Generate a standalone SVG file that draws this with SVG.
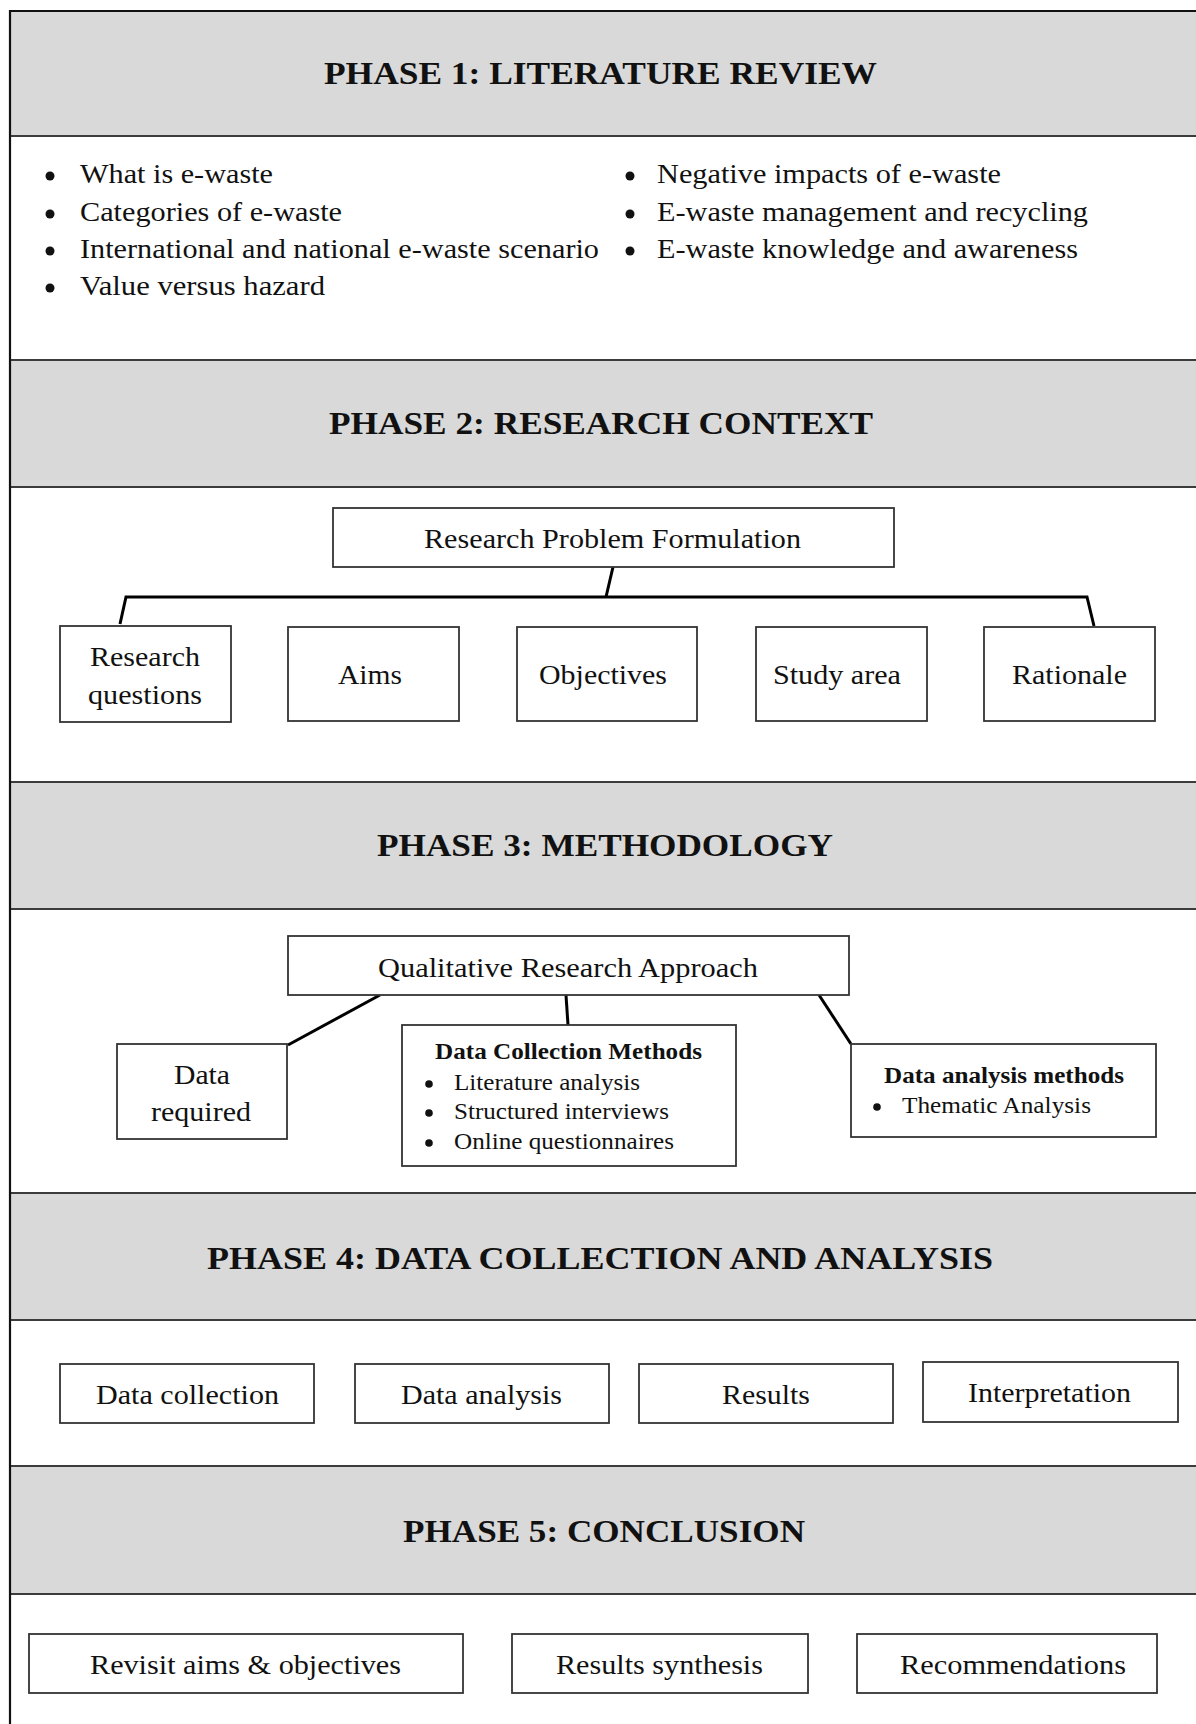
<svg xmlns="http://www.w3.org/2000/svg" width="1196" height="1724" viewBox="0 0 1196 1724">
<style>
.hdr{fill:#d9d9d9;stroke:none}
.sep{stroke:#3c3c3c;stroke-width:2;fill:none}
.frame{stroke:#111;stroke-width:2.2;fill:none}
.box{fill:#fff;stroke:#333;stroke-width:1.8}
.title{font-family:"Liberation Serif","Times New Roman",serif;font-weight:bold;font-size:31px;fill:#111}
.t{font-family:"Liberation Serif","Times New Roman",serif;font-size:27px;fill:#111}
.s{font-family:"Liberation Serif","Times New Roman",serif;font-size:23px;fill:#111}
.sb{font-family:"Liberation Serif","Times New Roman",serif;font-size:23px;font-weight:bold;fill:#111}
.dot{fill:#111}
.conn{stroke:#000;stroke-width:3;fill:none;stroke-linejoin:miter}
</style>
<rect x="0" y="0" width="1196" height="1724" fill="#fff"/>

<!-- Phase headers -->
<g id="phase1-header">
<rect class="hdr" x="10" y="11" width="1186" height="125"/>
<text class="title" x="324" y="84" textLength="553" lengthAdjust="spacingAndGlyphs">PHASE 1: LITERATURE REVIEW</text>
</g>
<g id="phase1-body">
<circle class="dot" cx="50" cy="176" r="4.5"/>
<text class="t" x="80" y="183" textLength="193" lengthAdjust="spacingAndGlyphs">What is e-waste</text>
<circle class="dot" cx="50" cy="214" r="4.5"/>
<text class="t" x="80" y="221" textLength="262" lengthAdjust="spacingAndGlyphs">Categories of e-waste</text>
<circle class="dot" cx="50" cy="251" r="4.5"/>
<text class="t" x="80" y="258" textLength="519" lengthAdjust="spacingAndGlyphs">International and national e-waste scenario</text>
<circle class="dot" cx="50" cy="288" r="4.5"/>
<text class="t" x="80" y="295" textLength="245" lengthAdjust="spacingAndGlyphs">Value versus hazard</text>
<circle class="dot" cx="630" cy="176" r="4.5"/>
<text class="t" x="657" y="183" textLength="344" lengthAdjust="spacingAndGlyphs">Negative impacts of e-waste</text>
<circle class="dot" cx="630" cy="214" r="4.5"/>
<text class="t" x="657" y="221" textLength="431" lengthAdjust="spacingAndGlyphs">E-waste management and recycling</text>
<circle class="dot" cx="630" cy="251" r="4.5"/>
<text class="t" x="657" y="258" textLength="421" lengthAdjust="spacingAndGlyphs">E-waste knowledge and awareness</text>
</g>

<g id="phase2-header">
<rect class="hdr" x="10" y="360" width="1186" height="127"/>
<text class="title" x="329" y="434" textLength="544" lengthAdjust="spacingAndGlyphs">PHASE 2: RESEARCH CONTEXT</text>
</g>

<g id="phase3-header">
<rect class="hdr" x="10" y="782" width="1186" height="127"/>
<text class="title" x="377" y="856" textLength="456" lengthAdjust="spacingAndGlyphs">PHASE 3: METHODOLOGY</text>
</g>

<g id="phase4-header">
<rect class="hdr" x="10" y="1193" width="1186" height="127"/>
<text class="title" x="207" y="1269" textLength="786" lengthAdjust="spacingAndGlyphs">PHASE 4: DATA COLLECTION AND ANALYSIS</text>
</g>

<g id="phase5-header">
<rect class="hdr" x="10" y="1466" width="1186" height="128"/>
<text class="title" x="403" y="1542" textLength="402" lengthAdjust="spacingAndGlyphs">PHASE 5: CONCLUSION</text>
</g>

<!-- separators and frame -->
<g id="frame">
<line class="sep" x1="10" y1="136" x2="1196" y2="136"/>
<line class="sep" x1="10" y1="360" x2="1196" y2="360"/>
<line class="sep" x1="10" y1="487" x2="1196" y2="487"/>
<line class="sep" x1="10" y1="782" x2="1196" y2="782"/>
<line class="sep" x1="10" y1="909" x2="1196" y2="909"/>
<line class="sep" x1="10" y1="1193" x2="1196" y2="1193"/>
<line class="sep" x1="10" y1="1320" x2="1196" y2="1320"/>
<line class="sep" x1="10" y1="1466" x2="1196" y2="1466"/>
<line class="sep" x1="10" y1="1594" x2="1196" y2="1594"/>
<line class="frame" x1="10" y1="11" x2="1196" y2="11"/>
<line class="frame" x1="10" y1="10" x2="10" y2="1724"/>
</g>

<!-- connectors -->
<g id="connectors">
<path class="conn" d="M613,567 L606,597"/>
<path class="conn" d="M120,624 L126,597 L1087,597 L1094,626"/>
<path class="conn" d="M380,995 L288,1045"/>
<path class="conn" d="M566,995 L568,1025"/>
<path class="conn" d="M819,995 L851,1044"/>
</g>

<!-- Phase 2 nodes -->
<g id="research-problem">
<rect class="box" x="333" y="508" width="561" height="59"/>
<text class="t" x="424" y="548" textLength="377" lengthAdjust="spacingAndGlyphs">Research Problem Formulation</text>
</g>
<g id="research-questions">
<rect class="box" x="60" y="626" width="171" height="96"/>
<text class="t" x="90" y="666" textLength="110" lengthAdjust="spacingAndGlyphs">Research</text>
<text class="t" x="88" y="704" textLength="114" lengthAdjust="spacingAndGlyphs">questions</text>
</g>
<g id="aims">
<rect class="box" x="288" y="627" width="171" height="94"/>
<text class="t" x="338" y="684" textLength="64" lengthAdjust="spacingAndGlyphs">Aims</text>
</g>
<g id="objectives">
<rect class="box" x="517" y="627" width="180" height="94"/>
<text class="t" x="539" y="684" textLength="128" lengthAdjust="spacingAndGlyphs">Objectives</text>
</g>
<g id="study-area">
<rect class="box" x="756" y="627" width="171" height="94"/>
<text class="t" x="773" y="684" textLength="128" lengthAdjust="spacingAndGlyphs">Study area</text>
</g>
<g id="rationale">
<rect class="box" x="984" y="627" width="171" height="94"/>
<text class="t" x="1012" y="684" textLength="115" lengthAdjust="spacingAndGlyphs">Rationale</text>
</g>

<!-- Phase 3 nodes -->
<g id="qualitative-approach">
<rect class="box" x="288" y="936" width="561" height="59"/>
<text class="t" x="378" y="977" textLength="380" lengthAdjust="spacingAndGlyphs">Qualitative Research Approach</text>
</g>
<g id="data-required">
<rect class="box" x="117" y="1044" width="170" height="95"/>
<text class="t" x="174" y="1084" textLength="56" lengthAdjust="spacingAndGlyphs">Data</text>
<text class="t" x="151" y="1121" textLength="100" lengthAdjust="spacingAndGlyphs">required</text>
</g>
<g id="data-collection-methods">
<rect class="box" x="402" y="1025" width="334" height="141"/>
<text class="sb" x="435" y="1059" textLength="267" lengthAdjust="spacingAndGlyphs">Data Collection Methods</text>
<circle class="dot" cx="429" cy="1084" r="3.8"/>
<text class="s" x="454" y="1090" textLength="186" lengthAdjust="spacingAndGlyphs">Literature analysis</text>
<circle class="dot" cx="429" cy="1113" r="3.8"/>
<text class="s" x="454" y="1119" textLength="215" lengthAdjust="spacingAndGlyphs">Structured interviews</text>
<circle class="dot" cx="429" cy="1143" r="3.8"/>
<text class="s" x="454" y="1149" textLength="220" lengthAdjust="spacingAndGlyphs">Online questionnaires</text>
</g>
<g id="data-analysis-methods">
<rect class="box" x="851" y="1044" width="305" height="93"/>
<text class="sb" x="884" y="1083" textLength="240" lengthAdjust="spacingAndGlyphs">Data analysis methods</text>
<circle class="dot" cx="877" cy="1107" r="3.8"/>
<text class="s" x="902" y="1113" textLength="189" lengthAdjust="spacingAndGlyphs">Thematic Analysis</text>
</g>

<!-- Phase 4 nodes -->
<g id="data-collection">
<rect class="box" x="60" y="1364" width="254" height="59"/>
<text class="t" x="96" y="1404" textLength="183" lengthAdjust="spacingAndGlyphs">Data collection</text>
</g>
<g id="data-analysis">
<rect class="box" x="355" y="1364" width="254" height="59"/>
<text class="t" x="401" y="1404" textLength="161" lengthAdjust="spacingAndGlyphs">Data analysis</text>
</g>
<g id="results">
<rect class="box" x="639" y="1364" width="254" height="59"/>
<text class="t" x="722" y="1404" textLength="88" lengthAdjust="spacingAndGlyphs">Results</text>
</g>
<g id="interpretation">
<rect class="box" x="923" y="1362" width="255" height="60"/>
<text class="t" x="968" y="1402" textLength="163" lengthAdjust="spacingAndGlyphs">Interpretation</text>
</g>

<!-- Phase 5 nodes -->
<g id="revisit-aims">
<rect class="box" x="29" y="1634" width="434" height="59"/>
<text class="t" x="90" y="1674" textLength="311" lengthAdjust="spacingAndGlyphs">Revisit aims &amp; objectives</text>
</g>
<g id="results-synthesis">
<rect class="box" x="512" y="1634" width="296" height="59"/>
<text class="t" x="556" y="1674" textLength="207" lengthAdjust="spacingAndGlyphs">Results synthesis</text>
</g>
<g id="recommendations">
<rect class="box" x="857" y="1634" width="300" height="59"/>
<text class="t" x="900" y="1674" textLength="226" lengthAdjust="spacingAndGlyphs">Recommendations</text>
</g>
</svg>
